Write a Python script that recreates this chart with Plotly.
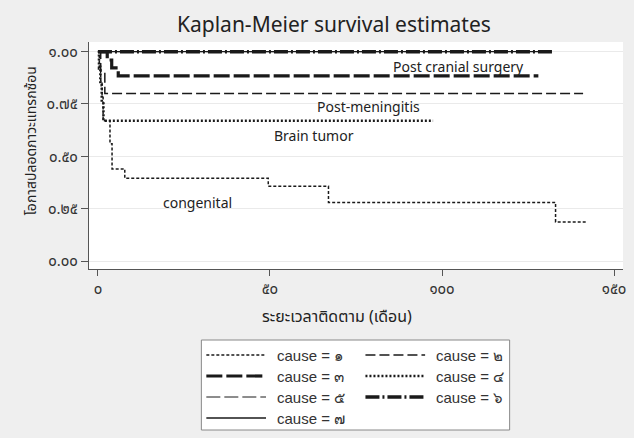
import plotly.graph_objects as go

# ---- data (months, survival probability) ----
t1 = [0, 0.4, 0.8, 1.2, 1.5, 3.5, 4.1, 7.8, 49.5, 67.0, 133.0, 142.0]
s1 = [1.0, 0.93, 0.86, 0.79, 0.67, 0.56, 0.44, 0.395, 0.357, 0.28, 0.187, 0.187]
t2 = [0, 0.8, 2.0, 141.0]
s2 = [1.0, 0.90, 0.80, 0.80]
t3 = [0, 2.7, 4.0, 5.9, 128.0]
s3 = [1.0, 0.96, 0.922, 0.884, 0.884]
t4 = [0, 0.3, 0.7, 1.1, 1.6, 97.4]
s4 = [1.0, 0.92, 0.84, 0.76, 0.67, 0.67]
t5 = [0, 110.0]
s5 = [1.0, 1.0]
t6 = [0, 132.0]
s6 = [1.0, 1.0]
t7 = [0, 131.0]
s7 = [1.0, 1.0]

causes = ["๑", "๒", "๓", "๔", "๕", "๖", "๗"]
times = [t1, t2, t3, t4, t5, t6, t7]
survs = [s1, s2, s3, s4, s5, s6, s7]

y_ticks = [0, 0.25, 0.5, 0.75, 1.0]
y_labels = ["๐.๐๐", "๐.๒๕", "๐.๕๐", "๐.๗๕", "๑.๐๐"]
x_ticks = [0, 50, 100, 150]
x_labels = ["๐", "๕๐", "๑๐๐", "๑๕๐"]

curve_labels = ["congenital", "Post-meningitis", "Post cranial surgery", "Brain tumor"]
label_x = [28.9, 78.6, 104.9, 62.7]
label_y = [0.279, 0.740, 0.930, 0.600]

# ---- styles ----
styles = [
    dict(dash="3px,2px", width=1.5),
    dict(dash="10px,4px", width=1.5),
    dict(dash="16px,4px", width=3.2),
    dict(dash="2px,2px", width=2.5),
    dict(dash="14px,4px", width=1),
    dict(dash="14px,3px,2px,3px", width=3.5),
    dict(dash="solid", width=1.3),
]
LINE_COLOR = "#1a1a1a"
FONT = "Noto Sans, Noto Sans Thai, Tahoma, sans-serif"

W, H = 634, 438
L, R, T, B = 89, 626, 42, 269


def px(x):
    return (x - L) / (R - L)


def py(y):
    return (B - y) / (B - T)


fig = go.Figure()
for i, (t, s) in enumerate(zip(times, survs)):
    fig.add_trace(go.Scatter(
        x=t, y=s, mode="lines", line_shape="hv",
        line=dict(color=LINE_COLOR, **styles[i]),
        name=f"cause = {causes[i]}", showlegend=False,
        hoverinfo="skip"))

annotations = []
for txt, xx, yy in zip(curve_labels, label_x, label_y):
    annotations.append(dict(x=xx, y=yy, xref="x", yref="y", text=txt,
                            xanchor="center", yanchor="middle",
                            showarrow=False, font=dict(family=FONT, size=14, color="#222")))

# title and axis titles
annotations.append(dict(x=px(335), y=py(24), xref="paper", yref="paper",
                        xanchor="center", yanchor="middle",
                        text="Kaplan-Meier survival estimates", showarrow=False,
                        font=dict(family=FONT, size=21, color="#222")))
annotations.append(dict(x=px(338), y=py(316), xref="paper", yref="paper",
                        xanchor="center", yanchor="middle",
                        text="ระยะเวลาติดตาม (เดือน)", showarrow=False,
                        font=dict(family=FONT, size=16, color="#222")))
annotations.append(dict(x=px(30), y=py(141), xref="paper", yref="paper",
                        xanchor="center", yanchor="middle",
                        text="โอกาสปลอดภาวะแทรกซ้อน", showarrow=False, textangle=-90,
                        font=dict(family=FONT, size=14, color="#222")))

shapes = []
# legend box
shapes.append(dict(type="rect", xref="paper", yref="paper",
                   x0=px(202), x1=px(512), y0=py(430), y1=py(340),
                   fillcolor="white", line=dict(color="#888", width=1), layer="below"))
rows = [355, 376, 397, 418]
cols = [(207, 267, 276), (367, 427, 436)]
for i in range(7):
    r, c = divmod(i, 2)
    x0, x1, xt = cols[c]
    yy = rows[r]
    shapes.append(dict(type="line", xref="paper", yref="paper",
                       x0=px(x0), x1=px(x1), y0=py(yy), y1=py(yy),
                       line=dict(color=LINE_COLOR, **styles[i])))
    annotations.append(dict(x=px(xt), y=py(yy), xref="paper", yref="paper",
                            xanchor="left", yanchor="middle",
                            text=f"cause = {causes[i]}", showarrow=False,
                            font=dict(family="Liberation Sans, Arial, sans-serif", size=15, color="#333")))

fig.update_layout(
    width=W, height=H,
    margin=dict(l=L, r=W - R, t=T, b=H - B),
    paper_bgcolor="#efefef", plot_bgcolor="white",
    annotations=annotations, shapes=shapes,
    showlegend=False,
)
fig.update_xaxes(range=[-2.6, 152.6], tickvals=x_ticks, ticktext=x_labels,
                 showgrid=False, zeroline=False, showline=True, linecolor="#555",
                 linewidth=1.2, ticks="outside", ticklen=6, tickcolor="#555",
                 tickfont=dict(family=FONT, size=15, color="#333"))
fig.update_yaxes(range=[-0.038, 1.046], tickvals=y_ticks, ticktext=y_labels,
                 showgrid=True, gridcolor="#eaeaea", zeroline=False, showline=True,
                 linecolor="#555", linewidth=1.2, ticks="outside", ticklen=7,
                 tickcolor="#555", tickfont=dict(family=FONT, size=15, color="#333"))

fig.write_html("out.html")
